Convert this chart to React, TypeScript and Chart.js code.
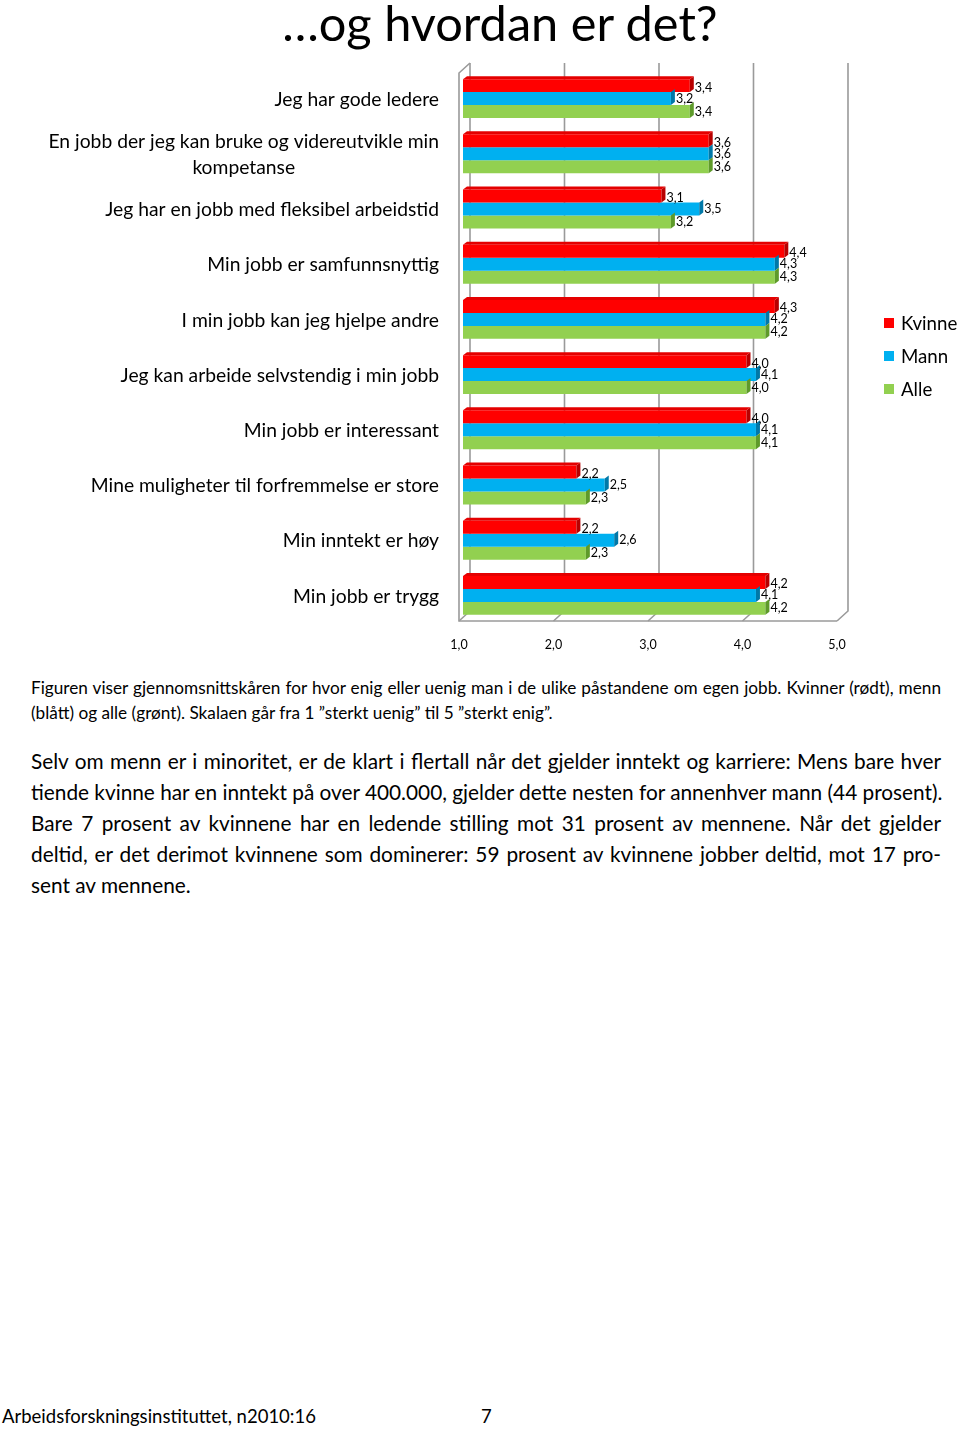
import React, { useEffect, useRef } from "react";
import { Chart, registerables } from "chart.js";

Chart.register(...registerables);

const categories: (string | string[])[] = [
  "Jeg har gode ledere",
  ["En jobb der jeg kan bruke og videreutvikle min", "kompetanse"],
  "Jeg har en jobb med fleksibel arbeidstid",
  "Min jobb er samfunnsnyttig",
  "I min jobb kan jeg hjelpe andre",
  "Jeg kan arbeide selvstendig i min jobb",
  "Min jobb er interessant",
  "Mine muligheter til forfremmelse er store",
  "Min inntekt er høy",
  "Min jobb er trygg",
];
const kvinne = [3.4, 3.6, 3.1, 4.4, 4.3, 4.0, 4.0, 2.2, 2.2, 4.2];
const mann = [3.2, 3.6, 3.5, 4.3, 4.2, 4.1, 4.1, 2.5, 2.6, 4.1];
const alle = [3.4, 3.6, 3.2, 4.3, 4.2, 4.0, 4.1, 2.3, 2.3, 4.2];
const seriesNames = ["Kvinne", "Mann", "Alle"];
const xTicks = [1, 2, 3, 4, 5];

const colors = ["#FF0000", "#00B0F0", "#92D050"];
const capColors = ["#B80000", "#0078A8", "#5E9A2A"];

const FONT = "Lato, 'Open Sans', sans-serif";
const fmt = (v: number) => v.toFixed(1).replace(".", ",");

const wallPlugin = {
  id: "wall3d",
  beforeDatasetsDraw(chart: any) {
    const { ctx, chartArea, scales } = chart;
    const xs = scales.x;
    const top = chartArea.top;
    const bottom = chartArea.bottom;
    ctx.save();
    ctx.strokeStyle = "#9a9a9a";
    ctx.lineWidth = 1.6;
    const frontY = bottom - 2;
    const backBottom = bottom - 12;
    const backTop = top - 8;
    xTicks.forEach((v) => {
      const xf = xs.getPixelForValue(v) - 4;
      const xb = xf + 11;
      ctx.beginPath();
      ctx.moveTo(xb, backTop);
      ctx.lineTo(xb, backBottom);
      ctx.lineTo(xf, frontY);
      ctx.stroke();
    });
    const x0 = xs.getPixelForValue(1) - 4;
    const x5 = xs.getPixelForValue(5) - 4;
    ctx.beginPath();
    ctx.moveTo(x0 + 11, backTop);
    ctx.lineTo(x0, top + 2);
    ctx.lineTo(x0, frontY);
    ctx.lineTo(x5, frontY);
    ctx.stroke();
    ctx.restore();
  },
  afterDatasetsDraw(chart: any) {
    const { ctx, chartArea } = chart;
    ctx.save();
    chart.data.datasets.forEach((ds: any, di: number) => {
      const meta = chart.getDatasetMeta(di);
      meta.data.forEach((el: any) => {
        const h = el.height;
        const t = el.y - h / 2;
        const b = el.y + h / 2;
        const x = el.x;
        ctx.fillStyle = capColors[di];
        ctx.beginPath();
        ctx.moveTo(x, t);
        ctx.lineTo(x + 4, t - 3);
        ctx.lineTo(x + 4, b - 3);
        ctx.lineTo(x, b);
        ctx.closePath();
        ctx.fill();
        if (di === 0) {
          const bx = chartArea.left;
          ctx.fillStyle = "#E40000";
          ctx.beginPath();
          ctx.moveTo(bx, t);
          ctx.lineTo(bx + 4, t - 3);
          ctx.lineTo(x + 4, t - 3);
          ctx.lineTo(x, t);
          ctx.closePath();
          ctx.fill();
        }
      });
    });
    ctx.fillStyle = "#000";
    ctx.font = `12.5px ${FONT}`;
    ctx.textAlign = "left";
    ctx.textBaseline = "middle";
    chart.data.datasets.forEach((ds: any, di: number) => {
      const meta = chart.getDatasetMeta(di);
      meta.data.forEach((el: any, i: number) => {
        ctx.fillText(fmt(ds.data[i]), el.x + 5, el.y + (di === 0 ? 2 : 0));
      });
    });
    ctx.restore();
  },
  afterDraw(chart: any) {
    const { ctx, chartArea, scales } = chart;
    const ys = scales.y;
    ctx.save();
    ctx.fillStyle = "#000";
    ctx.font = `19.3px ${FONT}`;
    ctx.textBaseline = "middle";
    const rightX = chartArea.left - 24;
    categories.forEach((lab, i) => {
      const y = ys.getPixelForTick(i) + 1;
      if (Array.isArray(lab)) {
        const w = Math.max(...lab.map((l) => ctx.measureText(l).width));
        const cx = rightX - w / 2;
        ctx.textAlign = "center";
        const lh = 26;
        lab.forEach((l, k) => {
          ctx.fillText(l, cx, y + (k - (lab.length - 1) / 2) * lh);
        });
      } else {
        ctx.textAlign = "right";
        ctx.fillText(lab, rightX, y);
      }
    });
    // legend
    ctx.font = `18.7px ${FONT}`;
    const lx = chartArea.right + 43;
    const cy = (chartArea.top + chartArea.bottom) / 2 + 9;
    chart.data.datasets.forEach((ds: any, di: number) => {
      const y = cy + (di - 1) * 33;
      ctx.fillStyle = ds.backgroundColor;
      ctx.fillRect(lx, y - 5, 10, 10);
      ctx.fillStyle = "#000";
      ctx.textAlign = "left";
      ctx.fillText(ds.label, lx + 17, y + 1);
    });
    ctx.restore();
  },
};

function BarChart() {
  const ref = useRef<HTMLCanvasElement | null>(null);
  useEffect(() => {
    if (!ref.current) return;
    const chart = new Chart(ref.current, {
      type: "bar",
      data: {
        labels: categories.map((c) => (Array.isArray(c) ? c.join(" ") : c)),
        datasets: [kvinne, mann, alle].map((d, i) => ({
          label: seriesNames[i],
          data: d,
          base: 1,
          backgroundColor: colors[i],
          borderWidth: 0,
          barPercentage: 1,
          categoryPercentage: 0.705,
        })),
      },
      options: {
        indexAxis: "y",
        animation: false,
        responsive: false,
        layout: { padding: { left: 463, right: 119, top: 71, bottom: 8 } },
        plugins: { legend: { display: false }, tooltip: { enabled: false } },
        scales: {
          x: {
            min: 1,
            max: 5,
            grid: { display: false },
            border: { display: false },
            afterBuildTicks: (axis: any) => {
              axis.ticks = xTicks.map((v) => ({ value: v }));
            },
            ticks: {
              color: "#000",
              font: { family: FONT, size: 12.5 },
              labelOffset: -4,
              padding: 6,
              callback: (v: any) => fmt(Number(v)),
            },
          },
          y: {
            display: false,
            grid: { display: false },
          },
        },
      },
      plugins: [wallPlugin],
    });
    return () => chart.destroy();
  }, []);
  return (
    <canvas
      ref={ref}
      width={960}
      height={666}
      style={{ position: "absolute", left: 0, top: 0, width: 960, height: 666 }}
    />
  );
}

const bodyLines = [
  "Selv om menn er i minoritet, er de klart i flertall når det gjelder inntekt og karriere: Mens bare hver",
  "tiende kvinne har en inntekt på over 400.000, gjelder dette nesten for annenhver mann (44 prosent).",
  "Bare 7 prosent av kvinnene har en ledende stilling mot 31 prosent av mennene. Når det gjelder",
  "deltid, er det derimot kvinnene som dominerer: 59 prosent av kvinnene jobber deltid, mot 17 pro-",
  "sent av mennene.",
];
const captionLines = [
  "Figuren viser gjennomsnittskåren for hvor enig eller uenig man i de ulike påstandene om egen jobb. Kvinner (rødt), menn",
  "(blått) og alle (grønt). Skalaen går fra 1 ”sterkt uenig” til 5 ”sterkt enig”.",
];

export default function App() {
  const line = (text: string, justify: boolean, key: number, lh: number, fs: number) => (
    <div
      key={key}
      style={{
        height: lh,
        lineHeight: `${lh}px`,
        fontSize: fs,
        whiteSpace: "nowrap",
        textAlign: justify ? "justify" : "left",
        textAlignLast: justify ? "justify" : "left",
      } as any}
    >
      {text}
    </div>
  );
  return (
    <div
      style={{
        position: "absolute",
        left: 0,
        top: 0,
        width: 960,
        height: 1430,
        background: "#fff",
        fontFamily: FONT,
        color: "#000",
        overflow: "hidden",
      }}
    >
      <BarChart />
      <div
        style={{
          position: "absolute",
          left: 200,
          width: 600,
          top: -2,
          textAlign: "center",
          fontSize: 48.7,
          lineHeight: 1,
        }}
      >
        …og hvordan er det?
      </div>
      <div style={{ position: "absolute", left: 31, width: 910, top: 675 }}>
        {captionLines.map((t, i) => line(t, i === 0, i, 25, 17.2))}
      </div>
      <div style={{ position: "absolute", left: 31, width: 910, top: 745 }}>
        {bodyLines.map((t, i) => line(t, i < bodyLines.length - 1, i, 31, 20.8))}
      </div>
      <div style={{ position: "absolute", left: 2, top: 1404, fontSize: 18.5, lineHeight: "24px", whiteSpace: "nowrap" }}>
        Arbeidsforskningsinstituttet, n2010:16
      </div>
      <div style={{ position: "absolute", left: 481, top: 1404, fontSize: 18.5, lineHeight: "24px" }}>7</div>
    </div>
  );
}
